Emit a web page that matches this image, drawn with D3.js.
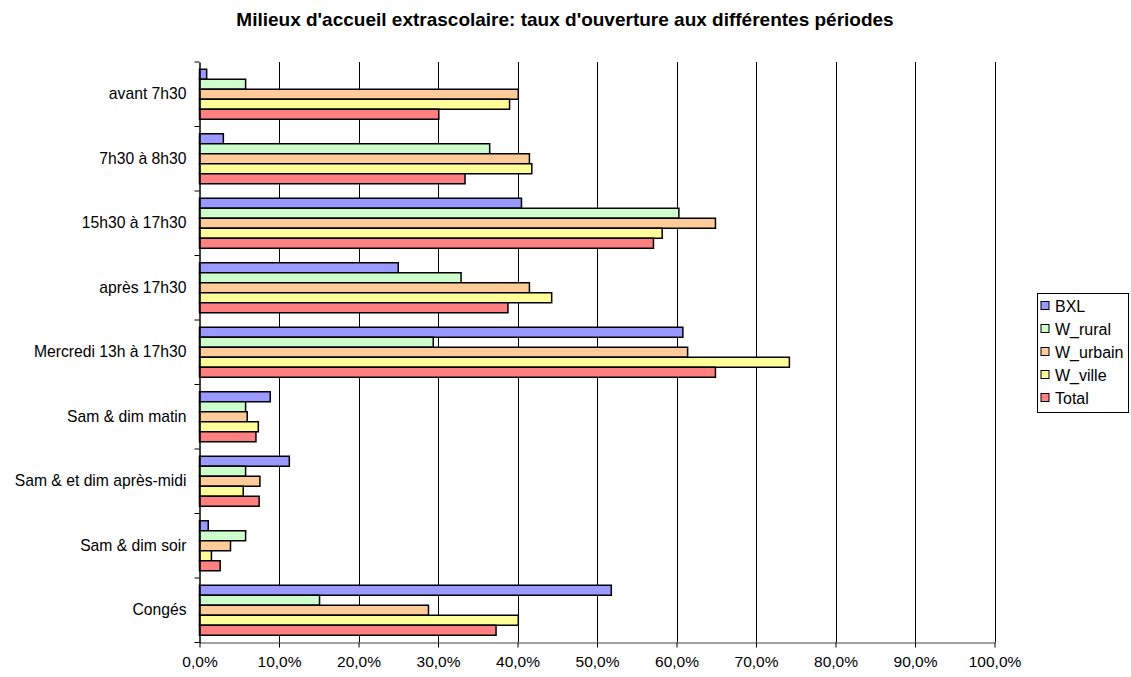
<!DOCTYPE html>
<html>
<head>
<meta charset="utf-8">
<script src="https://cdn.jsdelivr.net/npm/d3@7"></script>
<style>
  html, body { margin: 0; padding: 0; background: #fff; }
  svg { display: block; font-family: "Liberation Sans", Arial, sans-serif; }
</style>
</head>
<body>
<svg id="chart" width="1131" height="677"></svg>
<script>
// Periods (categories), top to bottom
const categories = [
  "avant 7h30",
  "7h30 à 8h30",
  "15h30 à 17h30",
  "après 17h30",
  "Mercredi 13h à 17h30",
  "Sam & dim matin",
  "Sam & et dim après-midi",
  "Sam & dim soir",
  "Congés"
];

// Opening rate per period (%), one array per series
const BXL      = [0.9, 3.0, 40.5, 25.0, 60.8, 8.9, 11.3, 1.1, 51.8];
const W_rural  = [5.8, 36.5, 60.3, 32.9, 29.4, 5.8, 5.8, 5.8, 15.1];
const W_urbain = [40.1, 41.5, 64.9, 41.5, 61.4, 6.0, 7.6, 3.9, 28.8];
const W_ville  = [39.0, 41.8, 58.2, 44.3, 74.2, 7.4, 5.5, 1.5, 40.1];
const Total    = [30.1, 33.4, 57.1, 38.8, 64.9, 7.1, 7.5, 2.6, 37.3];

const seriesNames = ["BXL", "W_rural", "W_urbain", "W_ville", "Total"];
const seriesValues = [BXL, W_rural, W_urbain, W_ville, Total];
const seriesColors = ["#9999FF", "#CCFFCC", "#FFCC99", "#FFFF99", "#FF8080"];

const xTicks = [0, 10, 20, 30, 40, 50, 60, 70, 80, 90, 100];

const title = "Milieux d'accueil extrascolaire: taux d'ouverture aux différentes périodes";

// ---- layout ----
const svg = d3.select("#chart");
const plot = { left: 199.5, right: 994.5, top: 62, bottom: 642.5 };

const x = d3.scaleLinear().domain([0, 100]).range([plot.left, plot.right]);
const y = d3.scaleBand().domain(categories).range([plot.top, plot.bottom]).padding(0);
const groupH = 50;
const barH = groupH / seriesNames.length;

const fr = d3.formatLocale({ decimal: ",", thousands: " ", grouping: [3], currency: ["", " €"] });
const pct = v => fr.format(".1f")(v) + "%";

// Title
svg.append("text")
  .attr("x", 565)
  .attr("y", 26)
  .attr("text-anchor", "middle")
  .attr("font-weight", "bold")
  .attr("font-size", 19)
  .attr("fill", "#000")
  .text(title);

// Vertical gridlines
svg.append("g")
  .selectAll("line")
  .data(xTicks.filter(t => t > 0))
  .join("line")
  .attr("x1", d => Math.round(x(d)) + 0.5)
  .attr("x2", d => Math.round(x(d)) + 0.5)
  .attr("y1", plot.top)
  .attr("y2", plot.bottom)
  .attr("stroke", "#000")
  .attr("stroke-width", 1);

// Bars
const groups = svg.append("g")
  .selectAll("g")
  .data(categories)
  .join("g")
  .attr("transform", d => `translate(0,${y(d) + (y.bandwidth() - groupH) / 2})`);

groups.selectAll("rect")
  .data((c, i) => seriesValues.map((vals, s) => ({ s, v: vals[i] })))
  .join("rect")
  .attr("x", x(0))
  .attr("y", d => d.s * barH)
  .attr("width", d => x(d.v) - x(0))
  .attr("height", barH)
  .attr("fill", d => seriesColors[d.s])
  .attr("stroke", "#000")
  .attr("stroke-width", 1.5);

// Bottom axis
const xAxis = svg.append("g")
  .attr("transform", `translate(0,${plot.bottom})`)
  .call(d3.axisBottom(x).tickValues(xTicks).tickFormat(pct).tickSize(5).tickSizeOuter(0));
xAxis.select(".domain").attr("stroke", "#808080").attr("stroke-width", 1.5);
xAxis.selectAll(".tick line").attr("stroke", "#000");
xAxis.selectAll(".tick text")
  .attr("font-family", "Liberation Sans, Arial, sans-serif")
  .attr("font-size", 15.5)
  .attr("fill", "#000")
  .attr("dy", "1.05em");

// Left axis: labels centred in bands, tick marks between categories
const yAxis = svg.append("g")
  .attr("transform", `translate(${plot.left},0)`)
  .call(d3.axisLeft(y).tickSize(0).tickPadding(13));
yAxis.select(".domain").attr("stroke", "#000").attr("stroke-width", 1.5);
yAxis.selectAll(".tick text")
  .attr("font-family", "Liberation Sans, Arial, sans-serif")
  .attr("font-size", 15.7)
  .attr("fill", "#000");

const boundaries = categories.map(c => y(c)).concat([plot.bottom]);
svg.append("g")
  .selectAll("line")
  .data(boundaries)
  .join("line")
  .attr("x1", plot.left - 5)
  .attr("x2", plot.left)
  .attr("y1", d => d)
  .attr("y2", d => d)
  .attr("stroke", "#000");

// Legend
const legend = svg.append("g").attr("transform", "translate(1037,293)");
legend.append("rect")
  .attr("x", 0.5).attr("y", 0.5)
  .attr("width", 91).attr("height", 119)
  .attr("fill", "#fff")
  .attr("stroke", "#000");
const items = legend.selectAll("g.item")
  .data(seriesNames)
  .join("g")
  .attr("class", "item")
  .attr("transform", (d, i) => `translate(4,${13 + i * 23})`);
items.append("rect")
  .attr("x", 0).attr("y", -4.5)
  .attr("width", 8).attr("height", 8)
  .attr("fill", (d, i) => seriesColors[i])
  .attr("stroke", "#000");
items.append("text")
  .attr("x", 14)
  .attr("y", 0)
  .attr("dy", "0.35em")
  .attr("font-size", 16)
  .attr("fill", "#000")
  .text(d => d);
</script>
</body>
</html>
